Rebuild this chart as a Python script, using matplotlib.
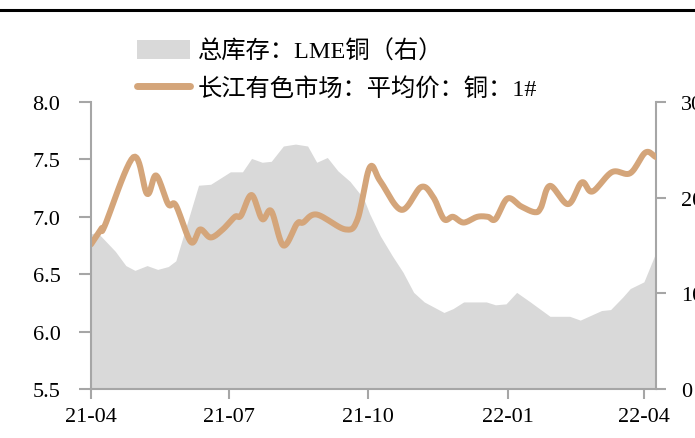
import numpy as np
import pandas as pd
import matplotlib
matplotlib.use('Agg')
import matplotlib.pyplot as plt
import matplotlib.dates as mdates
from matplotlib.patches import Patch
from matplotlib.lines import Line2D

plt.rcParams['font.family'] = ['Liberation Serif', 'Noto Sans CJK SC', 'DejaVu Sans']

# 长江有色市场：平均价：铜：1#（万元/吨）
price_dates = ['2021-04-01', '2021-04-08', '2021-04-10', '2021-04-29', '2021-05-08',
               '2021-05-14', '2021-05-22', '2021-05-27', '2021-06-06', '2021-06-12',
               '2021-06-19', '2021-06-27', '2021-07-05', '2021-07-09', '2021-07-16',
               '2021-07-23', '2021-07-29', '2021-08-06', '2021-08-15', '2021-08-19',
               '2021-08-28', '2021-09-16', '2021-09-24', '2021-10-02', '2021-10-09',
               '2021-10-23', '2021-11-05', '2021-11-13', '2021-11-20', '2021-11-26',
               '2021-12-03', '2021-12-12', '2021-12-19', '2021-12-24', '2022-01-01',
               '2022-01-10', '2022-01-19', '2022-01-23', '2022-01-29', '2022-02-10',
               '2022-02-19', '2022-02-26', '2022-03-11', '2022-03-23', '2022-04-02',
               '2022-04-09']
price = [6.76, 6.90, 6.92, 7.52, 7.20,
         7.36, 7.11, 7.10, 6.78, 6.89,
         6.82, 6.89, 7.00, 7.01, 7.19,
         6.98, 7.05, 6.75, 6.94, 6.95,
         7.02, 6.89, 6.98, 7.43, 7.31,
         7.06, 7.26, 7.17, 6.98, 7.00,
         6.95, 7.00, 7.00, 6.98, 7.16,
         7.09, 7.04, 7.08, 7.27, 7.11,
         7.30, 7.22, 7.39, 7.38, 7.56,
         7.52]

# 总库存：LME铜（万吨，右轴）
stock_dates = ['2021-04-01', '2021-04-05', '2021-04-17', '2021-04-24', '2021-04-30',
               '2021-05-08', '2021-05-15', '2021-05-22', '2021-05-27', '2021-06-11',
               '2021-06-19', '2021-06-25', '2021-07-02', '2021-07-10', '2021-07-16',
               '2021-07-23', '2021-07-29', '2021-08-06', '2021-08-14', '2021-08-22',
               '2021-08-28', '2021-09-04', '2021-09-11', '2021-09-19', '2021-09-28',
               '2021-10-02', '2021-10-09', '2021-10-17', '2021-10-24', '2021-10-31',
               '2021-11-07', '2021-11-20', '2021-11-26', '2021-12-03', '2021-12-18',
               '2021-12-24', '2021-12-31', '2022-01-07', '2022-01-16', '2022-01-29',
               '2022-02-11', '2022-02-18', '2022-03-04', '2022-03-10', '2022-03-18',
               '2022-03-23', '2022-04-01', '2022-04-08']
stock = [16.2, 16.4, 14.4, 12.9, 12.4,
         12.9, 12.5, 12.8, 13.4, 21.3,
         21.4, 22.0, 22.7, 22.7, 24.1,
         23.7, 23.8, 25.4, 25.6, 25.4,
         23.7, 24.2, 22.8, 21.7, 19.9,
         18.3, 16.0, 13.9, 12.2, 10.1,
         9.1, 8.0, 8.4, 9.1, 9.1,
         8.8, 8.9, 10.1, 9.1, 7.6,
         7.6, 7.2, 8.2, 8.3, 9.6,
         10.5, 11.2, 13.9]

x_ticks = ['2021-04-01', '2021-07-01', '2021-10-01', '2022-01-01', '2022-04-01']
x_labels = ['21-04', '21-07', '21-10', '22-01', '22-04']


def smooth(x, y, n=12):
    # catmull-rom curve through the points, like a smoothed excel line
    x = np.asarray(x, float)
    y = np.asarray(y, float)
    px = np.concatenate([[2 * x[0] - x[1]], x, [2 * x[-1] - x[-2]]])
    py = np.concatenate([[2 * y[0] - y[1]], y, [2 * y[-1] - y[-2]]])
    xs, ys = [], []
    t = np.linspace(0, 1, n, endpoint=False)
    for i in range(1, len(px) - 2):
        for p, out in ((px, xs), (py, ys)):
            p0, p1, p2, p3 = p[i - 1], p[i], p[i + 1], p[i + 2]
            out.extend(0.5 * (2 * p1 + (-p0 + p2) * t
                              + (2 * p0 - 5 * p1 + 4 * p2 - p3) * t ** 2
                              + (-p0 + 3 * p1 - 3 * p2 + p3) * t ** 3))
    xs.append(x[-1])
    ys.append(y[-1])
    return np.array(xs), np.array(ys)


pd_price = mdates.date2num(pd.to_datetime(price_dates))
pd_stock = mdates.date2num(pd.to_datetime(stock_dates))

fig = plt.figure(figsize=(6.95, 4.39), dpi=100)
ax = fig.add_axes([91 / 695, 1 - 390 / 439, 565 / 695, 287 / 439])
ax2 = ax.twinx()
ax.set_zorder(2)
ax.patch.set_visible(False)

grey = '#a6a6a6'
area_col = '#d9d9d9'
line_col = '#d4a57a'

ax2.fill_between(pd_stock, 0, stock, color=area_col, linewidth=0)
sx, sy = smooth(pd_price, price)
ax.plot(sx, sy, color=line_col, lw=4.3, solid_capstyle='round', solid_joinstyle='round')

xmin = mdates.date2num(pd.Timestamp('2021-04-01'))
xmax = mdates.date2num(pd.Timestamp('2022-04-09'))
ax.set_xlim(xmin, xmax)
ax.set_ylim(5.5, 8.0)
ax2.set_ylim(0, 30)
ax.set_yticks([5.5, 6.0, 6.5, 7.0, 7.5, 8.0])
ax.set_yticklabels(['5.5', '6.0', '6.5', '7.0', '7.5', '8.0'])
ax2.set_yticks([0, 10, 20, 30])
ax2.set_yticklabels(['0', '10', '20', '30'])
ax.set_xticks(mdates.date2num(pd.to_datetime(x_ticks)))
ax.set_xticklabels(x_labels)

for a in (ax, ax2):
    a.spines['top'].set_visible(False)
    for s in ('left', 'right', 'bottom'):
        a.spines[s].set_color(grey)
        a.spines[s].set_linewidth(1.5)
ax.spines['right'].set_visible(False)
ax2.spines['left'].set_visible(False)
ax2.spines['bottom'].set_visible(False)

ax.tick_params(axis='y', length=9, width=1.5, color=grey, pad=13, labelsize=16)
ax.tick_params(axis='x', length=7, width=1.5, color=grey, pad=6, labelsize=16)
ax2.tick_params(axis='y', length=7, width=1.5, color=grey, pad=11, labelsize=16)

handles = [Patch(facecolor=area_col, edgecolor='none'),
           Line2D([], [], color=line_col, lw=5, solid_capstyle='round')]
labels = ['总库存：LME铜（右）', '长江有色市场：平均价：铜：1#']
fig.legend(handles, labels, loc='upper left', bbox_to_anchor=(137 / 695, 1 - 41 / 439),
           frameon=False, borderpad=0, borderaxespad=0, handlelength=2.2,
           handleheight=0.85, handletextpad=0.3, labelspacing=0.55, fontsize=17.5)

# black rule along the top
fig.add_artist(Line2D([0, 1], [1 - 11 / 439, 1 - 11 / 439], color='black', lw=2.2))

fig.savefig('out.png', dpi=100)
